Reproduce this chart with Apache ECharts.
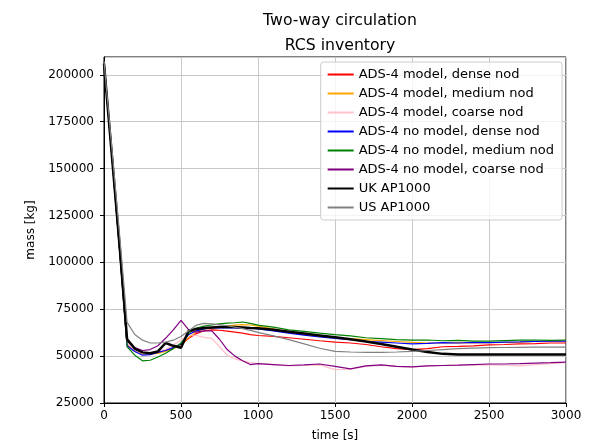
<!DOCTYPE html>
<html>
<head>
<meta charset="utf-8">
<script src="https://cdn.jsdelivr.net/npm/echarts@6/dist/echarts.min.js"></script>
<style>
  html, body { margin: 0; padding: 0; background: #fff; }
  #chart { width: 608px; height: 441px; }
</style>
</head>
<body>
<div id="chart"></div>
<script>
// time axis (s)
var times = [0, 50, 100, 150, 200, 250, 300, 350, 400, 450, 500, 550, 600, 650, 700, 750, 800, 850, 900, 950, 1000,
  1100, 1200, 1300, 1400, 1500, 1600, 1700, 1800, 1900, 2000, 2100, 2200, 2300, 2400, 2500, 2600, 2700, 2800, 2900, 3000];

// mass [kg]
var modelDense = [207000, 158000, 108000, 56000, 53000, 52000, 51500, 52000, 53000, 54500, 56000, 59500, 62000, 63500, 64000, 63800, 63300, 62800, 62300, 61500, 61000,
  60500, 59800, 59000, 58200, 57500, 57000, 56200, 55000, 54000, 53500, 54000, 55000, 55200, 55500, 56000, 56200, 56500, 56700, 57000, 57000];
var modelMedium = [207000, 158000, 108000, 56000, 52500, 51000, 51000, 51500, 52500, 54000, 56000, 60000, 63000, 64500, 65000, 65500, 66000, 66500, 66800, 66600, 66000,
  64500, 62800, 61500, 60500, 59800, 59300, 58800, 58300, 57800, 57300, 57000, 57000, 57200, 57000, 57200, 57300, 57500, 57800, 58000, 58000];
var modelCoarse = [207000, 160000, 110000, 57000, 53000, 51500, 51500, 53000, 53500, 56000, 58500, 61500, 61000, 60000, 59500, 55000, 50600, 48500, 47500, 46500, 46000,
  45500, 44800, 45000, 45300, 42800, 43000, 44500, 45000, 44500, 44200, 44800, 45000, 45200, 45300, 45500, 45000, 44800, 45500, 46000, 46500];
var noModelDense = [207000, 158000, 108000, 55500, 52500, 50500, 50800, 52000, 53000, 54500, 56500, 61500, 63500, 64500, 65000, 65000, 65200, 65000, 64800, 65000, 64500,
  63500, 62300, 61200, 60200, 59400, 58800, 57800, 57500, 57000, 56500, 56800, 57200, 57000, 57300, 57200, 57500, 57600, 57800, 58000, 58000];
var noModelMedium = [207000, 158000, 108000, 55000, 50500, 47500, 47800, 49500, 51500, 54000, 57000, 62000, 65000, 66000, 66600, 67200, 67600, 67800, 68200, 67500, 66500,
  65500, 64000, 63200, 62300, 61500, 60800, 59800, 59300, 58800, 58500, 58600, 58200, 58400, 58000, 58000, 58300, 58500, 58600, 58400, 58600];
var noModelCoarse = [207000, 160000, 110000, 58000, 54500, 53000, 53500, 55500, 59500, 64000, 69000, 64000, 62800, 63500, 63500, 59000, 53500, 50000, 47500, 45500, 46000,
  45500, 45000, 45300, 45800, 44500, 43200, 44800, 45300, 44500, 44300, 44800, 45000, 45200, 45500, 45800, 45800, 46000, 46300, 46500, 46800];
var ukAP1000 = [206000, 158000, 110000, 59000, 54000, 52000, 51500, 52500, 57000, 55500, 54500, 63500, 64500, 65000, 65300, 65500, 65500, 65500, 65300, 65000, 64800,
  64000, 63000, 62000, 61000, 60000, 59000, 57800, 56500, 55000, 53500, 52200, 51200, 50800, 50800, 50800, 50800, 50800, 50800, 50800, 50800];
var usAP1000 = [207000, 162000, 116000, 68000, 61500, 58500, 57000, 57000, 57500, 58500, 60500, 63500, 66500, 67500, 67200, 66800, 66200, 65500, 64700, 63700, 62700,
  60800, 58800, 56500, 54200, 52500, 52200, 52000, 52000, 52200, 52500, 53000, 53500, 54000, 54300, 54500, 54600, 54700, 54800, 54800, 54800];

var xTicks = [0, 500, 1000, 1500, 2000, 2500, 3000];
var yTicks = [25000, 50000, 75000, 100000, 125000, 150000, 175000, 200000];

var font = 'DejaVu Sans';

function pair(vals) {
  return times.map(function (t, i) { return [t, vals[i]]; });
}

function line(name, vals, color, width) {
  return {
    name: name,
    type: 'line',
    data: pair(vals),
    symbol: 'none',
    animation: false,
    lineStyle: { color: color, width: width || 1.2 },
    itemStyle: { color: color }
  };
}

var chart = echarts.init(document.getElementById('chart'));
chart.setOption({
  backgroundColor: '#fff',
  textStyle: { fontFamily: font },
  title: [
    { text: 'Two-way circulation', left: 335, top: 8, textAlign: 'center',
      textStyle: { fontFamily: font, fontSize: 15.7, fontWeight: 'normal', color: '#000' } },
    { text: 'RCS inventory', left: 335, top: 33, textAlign: 'center',
      textStyle: { fontFamily: font, fontSize: 15.7, fontWeight: 'normal', color: '#000' } }
  ],
  grid: {
    left: 104, right: 42, top: 57, bottom: 38,
    outerBoundsMode: 'none',
    show: true, borderColor: '#000', borderWidth: 1
  },
  legend: {
    orient: 'vertical',
    right: 46, top: 62,
    itemWidth: 26, itemHeight: 10, itemGap: 6,
    padding: [6, 8, 6, 6],
    backgroundColor: 'rgba(255,255,255,0.8)',
    borderColor: '#ccc', borderWidth: 1, borderRadius: 3,
    itemStyle: { opacity: 0 },
    textStyle: { fontFamily: font, fontSize: 13, color: '#000' }
  },
  xAxis: {
    type: 'value', min: 0, max: 3000, interval: 500,
    name: 'time [s]', nameLocation: 'middle', nameGap: 27,
    nameTextStyle: { fontFamily: font, fontSize: 12, color: '#000' },
    axisLine: { show: true, lineStyle: { color: '#000' } },
    axisTick: { show: true, length: 4, lineStyle: { color: '#000' } },
    axisLabel: { color: '#000', fontSize: 12, margin: 7,
      formatter: function (v) { return xTicks.indexOf(v) >= 0 ? String(v) : ''; } },
    splitLine: { show: true, lineStyle: { color: '#c8c8c8', width: 1 } }
  },
  yAxis: {
    type: 'value', min: 25000, max: 209500, interval: 25000,
    name: 'mass [kg]', nameLocation: 'middle', nameGap: 62,
    nameTextStyle: { fontFamily: font, fontSize: 12, color: '#000' },
    axisLine: { show: true, lineStyle: { color: '#000' } },
    axisTick: { show: true, length: 4, lineStyle: { color: '#000' } },
    axisLabel: { color: '#000', fontSize: 12, margin: 10, showMaxLabel: false,
      formatter: function (v) { return yTicks.indexOf(v) >= 0 ? String(v) : ''; } },
    splitLine: { show: true, lineStyle: { color: '#c8c8c8', width: 1 } }
  },
  series: [
    line('ADS-4 model, dense nod', modelDense, '#ff0000'),
    line('ADS-4 model, medium nod', modelMedium, '#ffa500'),
    line('ADS-4 model, coarse nod', modelCoarse, '#ffc0cb'),
    line('ADS-4 no model, dense nod', noModelDense, '#0000ff'),
    line('ADS-4 no model, medium nod', noModelMedium, '#008000'),
    line('ADS-4 no model, coarse nod', noModelCoarse, '#800080'),
    line('UK AP1000', ukAP1000, '#000000', 2.5),
    line('US AP1000', usAP1000, '#808080')
  ]
});
</script>
</body>
</html>
